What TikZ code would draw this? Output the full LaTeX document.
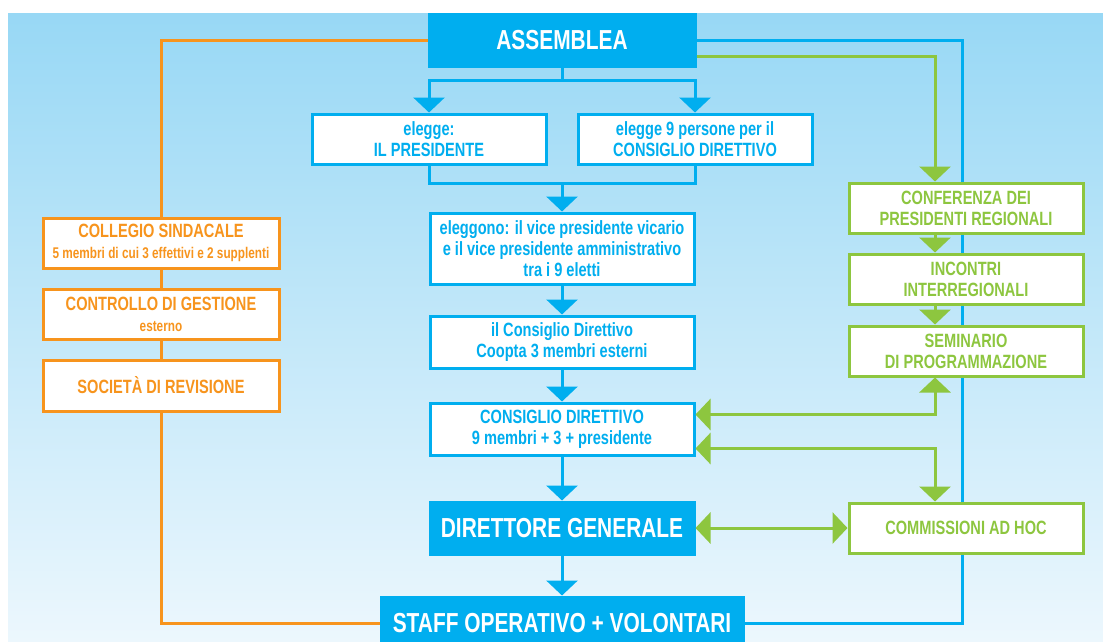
\documentclass[tikz,border=0pt]{standalone}
\usepackage{fontspec}
\setmainfont{Liberation Sans}[FakeStretch=0.76]
\usetikzlibrary{arrows.meta}
\definecolor{azzurro}{RGB}{0,174,239}
\definecolor{arancio}{RGB}{247,148,29}
\definecolor{verde}{RGB}{141,198,63}
\definecolor{cielo}{RGB}{152,216,245}
\definecolor{chiaro}{RGB}{236,247,253}
\begin{document}
\begin{tikzpicture}[x=1pt, y=-1pt, line width=3pt, >={Triangle[length=15pt,width=31pt]},
  font=\bfseries\fontsize{19.2}{21}\selectfont,
  box/.style={draw, fill=white, align=center, inner sep=0pt, minimum height=50pt},
  bbox/.style={box, draw=azzurro, text=azzurro, minimum width=264pt, minimum height=52pt},
  bfill/.style={bbox, fill=azzurro, text=white, font=\bfseries\fontsize{27.5}{29}\selectfont},
  obox/.style={box, draw=arancio, text=arancio, minimum width=236pt},
  gbox/.style={box, draw=verde, text=verde, minimum width=234pt}]
\def\piccolo{\fontsize{15.5}{17}\selectfont}
\useasboundingbox (0,0) rectangle (1103,641);
\clip (0,0) rectangle (1103,641);
\fill[white] (0,0) rectangle (1103,641);
\shade[top color=cielo, bottom color=chiaro] (8,13) rectangle (1103,641);
\coordinate (brail) at (962,0);
\coordinate (grail) at (935,0);
\coordinate (fork) at (562,80);
\coordinate (join) at (562,183);
\node[bfill, minimum width=266pt] (asm) at (562,40) {ASSEMBLEA};
\node[bfill, minimum width=362pt] (staff) at (562,623) {STAFF OPERATIVO + VOLONTARI};
\draw[azzurro] (asm.east) -- (asm.east -| brail) |- (staff.east);
\draw[arancio] (asm.west) -| (161,218);
% colonna centrale
\node[bbox, minimum width=234pt, minimum height=50pt] (pres) at (429,139) {elegge:\\IL PRESIDENTE};
\node[bbox, minimum width=234pt, minimum height=50pt] (cons9) at (695,139) {elegge 9 persone per il\\CONSIGLIO DIRETTIVO};
\node[bbox, minimum height=71pt] (elegg) at (562,248.5) {eleggono: il vice presidente vicario\\e il vice presidente amministrativo\\tra i 9 eletti};
\node[bbox] (coopta) at (562,342) {il Consiglio Direttivo\\Coopta 3 membri esterni};
\node[bbox] (cd) at (562,429) {CONSIGLIO DIRETTIVO\\9 membri + 3 + presidente};
\node[bfill] (dg) at (562,528) {DIRETTORE GENERALE};
% colonna sinistra
\node[obox] (coll) at (161,243) {COLLEGIO SINDACALE\\{\piccolo 5 membri di cui 3 effettivi e 2 supplenti}};
\node[obox] (ctrl) at (161,314) {CONTROLLO DI GESTIONE\\{\piccolo esterno}};
\node[obox, minimum height=51pt] (soc) at (161,385.5) {SOCIETÀ DI REVISIONE};
% colonna destra
\node[gbox] (conf) at (966,208) {CONFERENZA DEI\\PRESIDENTI REGIONALI};
\node[gbox] (inc) at (966,279) {INCONTRI\\INTERREGIONALI};
\node[gbox] (sem) at (966,351) {SEMINARIO\\DI PROGRAMMAZIONE};
\node[gbox] (comm) at (966,528) {COMMISSIONI AD HOC};
% collegamenti
\draw[azzurro] (asm.south) -- (fork);
\draw[azzurro,->] (fork) -| (pres.north);
\draw[azzurro,->] (fork) -| (cons9.north);
\draw[azzurro] (pres.south) |- (join) -| (cons9.south);
\draw[azzurro,->] (join) -- (elegg.north);
\foreach \a/\b in {elegg/coopta, coopta/cd, cd/dg, dg/staff}
  \draw[azzurro,->] (\a) -- (\b);
\draw[arancio] (coll) -- (ctrl);
\draw[arancio] (ctrl) -- (soc);
\draw[arancio] (soc.south) |- (staff.west);
\draw[verde,->] ([yshift=11pt]asm.south east) -| (conf.north -| grail);
\draw[verde,->] (conf.south -| grail) -- (inc.north -| grail);
\draw[verde,->] (inc.south -| grail) -- (sem.north -| grail);
\draw[verde,<->] ([yshift=-13pt]cd.north east) -| (sem.south -| grail);
\draw[verde,<->] ([yshift=8pt]cd.south east) -| (comm.north -| grail);
\draw[verde,<->] (dg) -- (comm);
\end{tikzpicture}
\end{document}
